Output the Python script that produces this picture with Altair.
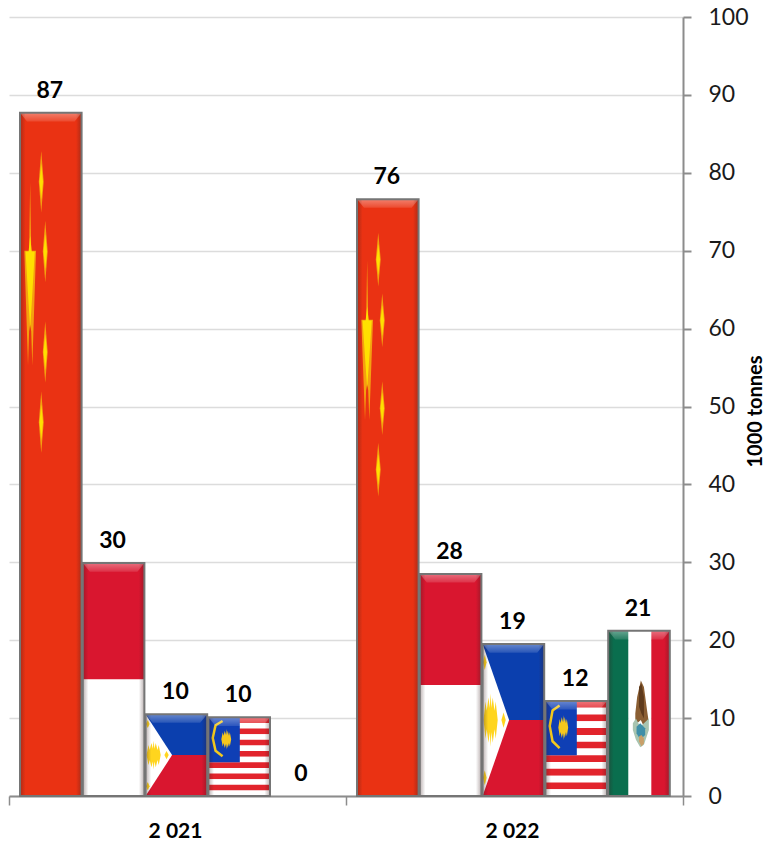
import altair as alt
import pandas as pd

YEARS = ["2 021", "2 022"]
COUNTRIES = ["China", "Indonesia", "Philippines", "Malaysia", "Mexico"]
VALUES = {"2 021": [87.7, 29.9, 10.5, 10.1, 0.0], "2 022": [76.6, 28.5, 19.5, 12.2, 21.2]}
LABELS = {"2 021": ["87", "30", "10", "10", "0"], "2 022": ["76", "28", "19", "12", "21"]}
TICKS = list(range(0, 101, 10))

RED_CN, YEL, RED, BLUE, GREEN = "#EA3213", "#FFE000", "#D9162F", "#0B3FAE", "#0A6E4E"
STRIPE, AMBER = "#E2242C", "#F4A010"

# layout in group units (one group = 1 on the x scale)
PAD, SLOT, BAR = 11 / 337, 62.8 / 337, 61.6 / 337


def poly(pts, c):
    return {"c": c, "pts": pts}


def spindle(x, h, w, dh, c):
    return poly([(x - w, h, h), (x, h + dh, h - dh), (x + w, h, h)], c)


def spiky(x, h, w, dh, c):
    # star-like outline: alternating long and short spokes around a centre
    xs = [-1, -.72, -.55, -.3, -.12, 0, .12, .3, .55, .72, 1]
    rs = [.0, .7, .35, .85, .45, 1, .45, .85, .35, .7, .0]
    return poly([(x + w * a, h + dh * r, h - dh * r) for a, r in zip(xs, rs)], c)


def flag(country):
    """rects (x0,x1,h0,h1,c), polygons and lines in bar-relative fractions"""
    rects, polys, lines = [], [], []
    if country == "China":
        rects.append((0, 1, 0, 1, RED_CN))
        polys.append(poly([(.07, .798, .798), (.13, .798, .63), (.148, .798, .68), (.165, .898, .69),
                           (.182, .798, .68), (.20, .798, .63), (.26, .798, .798)], AMBER))
        polys.append(poly([(.09, .797, .797), (.14, .797, .72), (.165, .82, .685), (.19, .797, .72),
                           (.24, .797, .797)], YEL))
        for x, h in [(.345, .899), (.41, .797), (.41, .65), (.345, .547)]:
            polys.append(spindle(x, h, .04, .045, AMBER))
            polys.append(spindle(x, h, .028, .026, YEL))
    elif country == "Indonesia":
        rects += [(0, 1, .5, 1, RED), (0, 1, 0, .5, "#FFFFFF")]
    elif country == "Philippines":
        rects += [(0, 1, .5, 1, BLUE), (0, 1, 0, .5, RED)]
        polys.append(poly([(0, 1, 0), (.43, .5, .5)], "#FFFFFF"))
        polys.append(spiky(.13, .5, .115, .175, "#FFD51E"))
        polys.append(spindle(.34, .5, .035, .05, "#FFD51E"))
        polys.append(spindle(.035, .88, .03, .05, "#FFD51E"))
        polys.append(spindle(.035, .12, .03, .05, "#FFD51E"))
    elif country == "Malaysia":
        n = 14
        for i in range(n):
            rects.append((0, 1, 1 - (i + 1) / n, 1 - i / n, STRIPE if i % 2 == 0 else "#FFFFFF"))
        rects.append((0, .51, 6 / 14, 1, "#0F3FB5"))
        lines.append(([(.23, .953), (.116, .90), (.07, .737), (.116, .576), (.23, .504)], "#F2C81E"))
        polys.append(spiky(.29, .72, .08, .13, "#F5C71E"))
    elif country == "Mexico":
        rects += [(0, .33, 0, 1, GREEN), (.33, .70, 0, 1, "#FFFFFF"), (.70, 1, 0, 1, RED)]
        polys.append(poly([(.44, .50, .46), (.47, .60, .44), (.53, .70, .46), (.58, .66, .42),
                           (.63, .52, .44), (.65, .47, .46)], "#8A5E33"))
        polys.append(poly([(.50, .66, .54), (.54, .68, .50), (.58, .60, .47)], "#5E3A1C"))
        polys.append(poly([(.40, .44, .40), (.45, .47, .34), (.52, .42, .295), (.58, .44, .31),
                           (.66, .47, .40)], "#A8C4B0"))
        polys.append(poly([(.46, .42, .38), (.52, .44, .34), (.60, .41, .37)], "#3F8FA8"))
        polys.append(poly([(.50, .36, .33), (.54, .37, .30), (.58, .35, .32)], "#C9A06A"))
    return rects, polys, lines


bars, labels, rect_rows, poly_rows, line_rows, bevel_rows = [], [], [], [], [], []
pid = 0
for g, year in enumerate(YEARS):
    for i, country in enumerate(COUNTRIES):
        v = VALUES[year][i]
        left = g + PAD + i * SLOT
        labels.append({"x": left + BAR / 2, "y": v, "t": LABELS[year][i]})
        if v == 0:
            continue
        bars.append({"x0": left, "x1": left + BAR, "y0": 0, "y1": v})
        fx = lambda f: left + f * BAR
        rects, polys, lines = flag(country)
        for r in rects:
            rect_rows.append({"x0": fx(r[0]), "x1": fx(r[1]), "y0": r[2] * v, "y1": r[3] * v, "c": r[4]})
        for p in polys:
            pid += 1
            for x, hi, lo in p["pts"]:
                poly_rows.append({"p": pid, "x": fx(x), "hi": hi * v, "lo": lo * v, "c": p["c"]})
        for pts, c in lines:
            pid += 1
            for k, (x, h) in enumerate(pts):
                line_rows.append({"p": pid, "k": k, "x": fx(x), "y": h * v, "c": c})
        pid += 1
        d, ins = 1.1, 7 / 337
        for x, lo in [(left, v), (left + ins, v - d), (left + BAR - ins, v - d), (left + BAR, v)]:
            bevel_rows.append({"p": pid, "x": x, "hi": v, "lo": lo})

x_enc = lambda f: alt.X(f, scale=alt.Scale(domain=[0, 2], nice=False, zero=False),
                        axis=alt.Axis(values=[0, 1, 2], labels=False, title=None, grid=False, tickSize=9,
                                      tickWidth=1.5, tickColor="#8c8c8c", domainColor="#8c8c8c", domainWidth=2))
y_enc = lambda f: alt.Y(f, scale=alt.Scale(domain=[0, 100], nice=False),
                        axis=alt.Axis(orient="right", values=TICKS, title="1000 tonnes", grid=True, gridColor="#dcdcdc",
                                      gridWidth=1.5, tickSize=8, tickWidth=2, tickColor="#8c8c8c", domainColor="#8c8c8c",
                                      domainWidth=2, labelFont="Lato", labelFontSize=23, labelColor="#1a1a1a",
                                      labelPadding=17, labelAlign="left", titleFont="Lato", titleFontSize=20,
                                      titleFontWeight="bold", titleColor="#000000", titleAngle=270,
                                      titleBaseline="bottom", titlePadding=17, titleY=394))

rect_df, bar_df = pd.DataFrame(rect_rows), pd.DataFrame(bars)

flag_rects = alt.Chart(rect_df).mark_rect().encode(
    x=x_enc("x0:Q"), x2="x1:Q", y=y_enc("y0:Q"), y2="y1:Q", color=alt.Color("c:N", scale=None))

flag_polys = alt.Chart(pd.DataFrame(poly_rows)).mark_area(orient="vertical").encode(
    x=x_enc("x:Q"), y=y_enc("hi:Q"), y2="lo:Q", detail="p:N", color=alt.Color("c:N", scale=None))

flag_lines = alt.Chart(pd.DataFrame(line_rows)).mark_line(strokeWidth=2.5).encode(
    x=x_enc("x:Q"), y=y_enc("y:Q"), detail="p:N", order="k:Q", color=alt.Color("c:N", scale=None))

bevel = alt.Chart(pd.DataFrame(bevel_rows)).mark_area(
    orient="vertical",
    color=alt.Gradient(gradient="linear", x1=0, x2=0, y1=0, y2=1,
                       stops=[alt.GradientStop(color="rgba(255,255,255,0.38)", offset=0),
                              alt.GradientStop(color="rgba(255,255,255,0.12)", offset=1)])
).encode(x=x_enc("x:Q"), y=y_enc("hi:Q"), y2="lo:Q", detail="p:N")

edge = alt.Chart(bar_df).mark_rect(
    color=alt.Gradient(gradient="linear", x1=0, x2=1, y1=0, y2=0,
                       stops=[alt.GradientStop(color="rgba(60,30,30,0.35)", offset=0),
                              alt.GradientStop(color="rgba(60,30,30,0)", offset=0.09),
                              alt.GradientStop(color="rgba(60,30,30,0)", offset=0.91),
                              alt.GradientStop(color="rgba(60,30,30,0.35)", offset=1)])
).encode(x=x_enc("x0:Q"), x2="x1:Q", y=y_enc("y0:Q"), y2="y1:Q")

outline = alt.Chart(bar_df).mark_rect(fillOpacity=0, stroke="#757575", strokeWidth=2).encode(
    x=x_enc("x0:Q"), x2="x1:Q", y=y_enc("y0:Q"), y2="y1:Q")

value_text = alt.Chart(pd.DataFrame(labels)).mark_text(
    font="Lato", fontSize=23, fontWeight="bold", color="#000000", dy=-22, dx=-1, baseline="middle"
).encode(x=x_enc("x:Q"), y=y_enc("y:Q"), text="t:N")

year_text = alt.Chart(pd.DataFrame({"x": [0.5, 1.5], "y": [0, 0], "t": YEARS})).mark_text(
    font="Lato", fontSize=21, fontWeight="bold", color="#000000", dy=36, dx=-2, baseline="middle"
).encode(x=x_enc("x:Q"), y=y_enc("y:Q"), text="t:N")

chart = alt.layer(flag_rects, flag_polys, flag_lines, bevel, edge, outline, value_text, year_text).properties(
    width=674, height=779,
    autosize=alt.AutoSizeParams(type="none"),
    padding={"left": 1, "top": 9, "right": 81, "bottom": 46},
).configure_view(stroke=None)

chart.save("out.html", embed_options={"renderer": "svg", "actions": False})
